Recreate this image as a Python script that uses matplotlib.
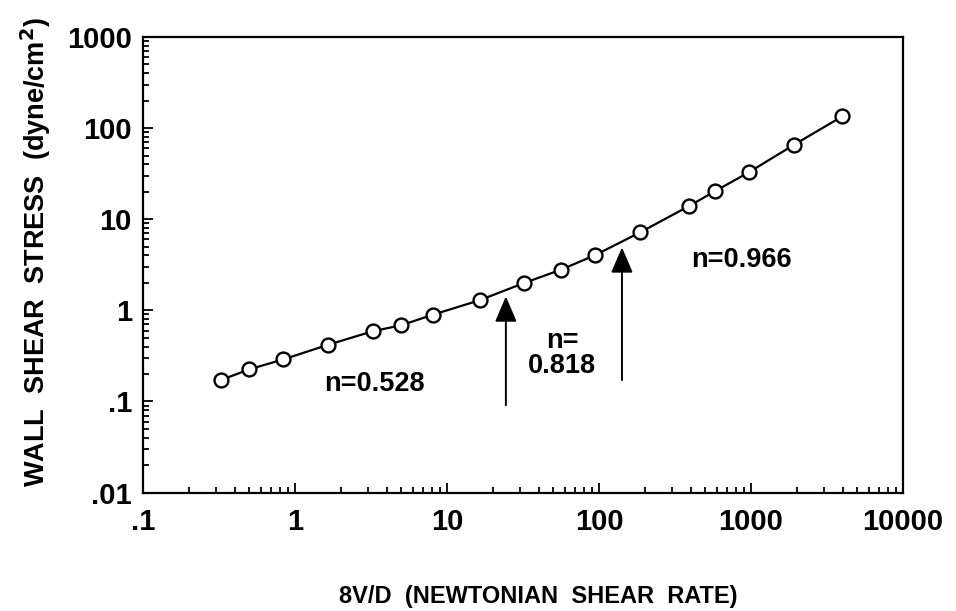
import matplotlib
matplotlib.use("Agg")
import matplotlib.pyplot as plt
from matplotlib.ticker import FixedLocator, FixedFormatter, LogLocator, NullFormatter

# Data
shear_rate = [0.324, 0.50, 0.837, 1.65, 3.26, 4.98, 8.09, 16.4, 32.3, 56.2, 94.2,
              186, 393, 580, 970, 1928, 3990]
wall_stress = [0.171, 0.225, 0.289, 0.418, 0.59, 0.684, 0.895, 1.29, 2.0, 2.79, 4.03,
               7.15, 14.0, 20.3, 32.8, 65.9, 134.6]

x_ticks = [0.1, 1, 10, 100, 1000, 10000]
x_tick_labels = [".1", "1", "10", "100", "1000", "10000"]
y_ticks = [0.01, 0.1, 1, 10, 100, 1000]
y_tick_labels = [".01", ".1", "1", "10", "100", "1000"]

arrow_x = [24.4, 141.6]
arrow_base = [0.091, 0.171]
arrow_tip = [1.42, 4.91]

plt.rcParams['font.family'] = ['Liberation Sans', 'DejaVu Sans']
plt.rcParams['font.weight'] = 'bold'

fig = plt.figure(figsize=(9.56, 6.11), dpi=100)
ax = fig.add_axes([143/956, 1 - 492.5/611, (903-143)/956, (492.5-37)/611])

ax.set_xscale('log')
ax.set_yscale('log')
ax.set_xlim(0.1, 10000)
ax.set_ylim(0.01, 1000)

ax.plot(shear_rate, wall_stress, '-', color='black', lw=1.6, zorder=2)
ax.plot(shear_rate, wall_stress, 'o', ms=10, mfc='white', mec='black', mew=1.7, zorder=3)

for xa, yb, yt in zip(arrow_x, arrow_base, arrow_tip):
    ax.annotate('', xy=(xa, yt), xytext=(xa, yb),
                arrowprops=dict(arrowstyle='-|>,head_length=1.05,head_width=0.45',
                                mutation_scale=15, lw=1.4, color='black',
                                shrinkA=0, shrinkB=0))

txt_kw = dict(fontsize=19.5, fontweight='bold', ha='center', va='center')
ax.text(3.31, 0.155, "n=0.528", **txt_kw)
ax.text(57.1, 0.46, "n=", **txt_kw)
ax.text(57.1, 0.247, "0.818", **txt_kw)
ax.text(859, 3.55, "n=0.966", **txt_kw)

ax.xaxis.set_major_locator(FixedLocator(x_ticks))
ax.xaxis.set_major_formatter(FixedFormatter(x_tick_labels))
ax.yaxis.set_major_locator(FixedLocator(y_ticks))
ax.yaxis.set_major_formatter(FixedFormatter(y_tick_labels))
ax.xaxis.set_minor_locator(LogLocator(base=10, subs=range(2, 10), numticks=20))
ax.yaxis.set_minor_locator(LogLocator(base=10, subs=range(2, 10), numticks=20))
ax.xaxis.set_minor_formatter(NullFormatter())
ax.yaxis.set_minor_formatter(NullFormatter())

ax.tick_params(which='both', direction='in', top=False, right=False, width=1.3)
ax.tick_params(which='major', length=7)
ax.tick_params(which='minor', length=4)
ax.tick_params(axis='y', which='major', pad=8, labelsize=21)
ax.tick_params(axis='x', which='major', pad=11, labelsize=21)
for lab in ax.get_xticklabels() + ax.get_yticklabels():
    lab.set_fontweight('bold')

for sp in ax.spines.values():
    sp.set_linewidth(1.6)

fig.text(538/956, 1 - 597/611, "8V/D  (NEWTONIAN  SHEAR  RATE)", fontsize=17,
         fontweight='bold', ha='center', va='center')
fig.text(36/956, 1 - 252/611, "WALL  SHEAR  STRESS  (dyne/cm$^\\mathbf{2}$)", fontsize=19.5,
         fontweight='bold', ha='center', va='center', rotation=90)

fig.savefig("out.png", dpi=100)
